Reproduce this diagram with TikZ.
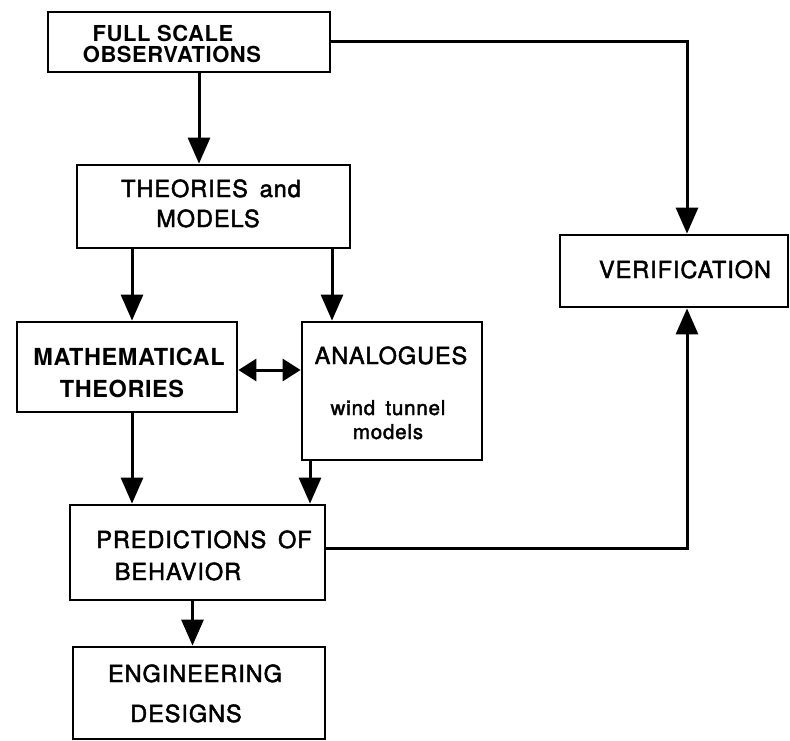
\documentclass[tikz,border=0pt]{standalone}
\usepackage{fontspec}
\setmainfont{TeX Gyre Heros}
\newfontfamily\lett[LetterSpace=2.5]{TeX Gyre Heros}
\newfontfamily\lettm[LetterSpace=4,FakeBold=2]{TeX Gyre Heros}
\usetikzlibrary{arrows.meta,calc}
\begin{document}
\begin{tikzpicture}[x=1pt,y=-1pt,
  box/.style={draw,line width=2.8pt,inner sep=0pt,rectangle},
  txt/.style={anchor=base,inner sep=0pt,font=\lettm\fontsize{23.5}{26}\selectfont},
  boldtxt/.style={anchor=base,inner sep=0pt,font=\lett\bfseries\fontsize{23.5}{26}\selectfont},
  fsotxt/.style={anchor=base,inner sep=0pt,font=\lett\bfseries\fontsize{22}{24}\selectfont},
  smalltxt/.style={anchor=base,inner sep=0pt,font=\lettm\fontsize{20.5}{24}\selectfont},
  arr/.style={line width=3pt,-{Triangle[length=26pt,width=22pt]}},
  darr/.style={line width=3pt,{Triangle[length=18pt,width=22pt]}-{Triangle[length=18pt,width=22pt]}}]
\useasboundingbox (0,0) rectangle (790,741);
% boxes
\node[box,minimum width=282pt,minimum height=60pt] (fso) at (189,42) {};
\node[box,minimum width=273pt,minimum height=83pt] (tm) at (213.5,206.5) {};
\node[box,minimum width=228pt,minimum height=72pt] (ver) at (674,271) {};
\node[box,minimum width=220pt,minimum height=90pt] (mt) at (127,367) {};
\node[box,minimum width=180pt,minimum height=138pt] (ana) at (392,391) {};
\node[box,minimum width=255pt,minimum height=95pt] (pb) at (197.5,552.5) {};
\node[box,minimum width=252pt,minimum height=92pt] (ed) at (199,693) {};
% texts
\node[fsotxt] (t1) at (163,42) {FULL SCALE};
\node[fsotxt] (t2) at (172,63) {OBSERVATIONS};
\node[txt] (t3) at (211,197) {THEORIES\hspace{0.5em}and};
\node[txt] (t4) at (208,227) {MODELS};
\node[txt] (t5) at (685,278) {VERIFICATION};
\node[boldtxt] (t6) at (129,365) {MATHEMATICAL};
\node[boldtxt] (t7) at (122,397) {THEORIES};
\node[txt] (t8) at (391,364) {ANALOGUES};
\node[smalltxt] (t9) at (388,415) {wind\hspace{0.5em}tunnel};
\node[smalltxt] (t10) at (388,439) {models};
\node[txt] (t11) at (204,548) {PREDICTIONS\hspace{0.5em}OF};
\node[txt] (t12) at (178,580) {BEHAVIOR};
\node[txt] (t13) at (195,682) {ENGINEERING};
\node[txt] (t14) at (186,722) {DESIGNS};
% connectors
\draw[arr] ([xshift=10pt]fso.south) -- ([xshift=10pt]fso.south |- tm.north);
\draw[arr] (fso.east) -| ([xshift=13pt]ver.north);
\draw[arr] ([xshift=5pt]mt.north |- tm.south) -- ([xshift=5pt]mt.north);
\draw[arr] ([xshift=-60pt]ana.north |- tm.south) -- ([xshift=-60pt]ana.north);
\draw[darr] ([yshift=-3pt]mt.east) -- ([yshift=-3pt]mt.east -| ana.west);
\draw[arr] ([xshift=5pt]mt.south) -- ([xshift=5pt]mt.south |- pb.north);
\draw[arr] ([xshift=-82pt]ana.south) -- ([xshift=-82pt]ana.south |- pb.north);
\draw[arr] ([yshift=4pt]pb.east) -| ([xshift=13pt]ver.south);
\draw[arr] ([xshift=-5pt]pb.south) -- ([xshift=-5pt]pb.south |- ed.north);
\end{tikzpicture}
\end{document}
